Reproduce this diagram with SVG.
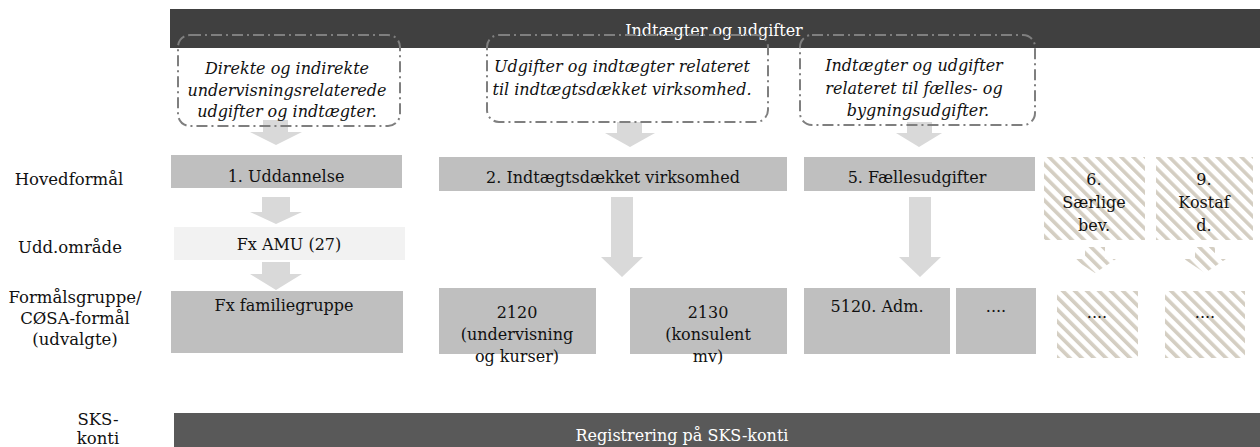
<svg xmlns="http://www.w3.org/2000/svg" width="1260" height="447" viewBox="0 0 1260 447">
<style>
text{font-family:"DejaVu Serif","Liberation Serif",serif;font-size:16px;fill:#111;text-anchor:middle}
.w{fill:#fff}
.it{font-style:italic;font-size:16px}
.lbl{font-size:16.5px}
.g{fill:#bfbfbf}
.arr{fill:#d9d9d9}
.dash{fill:none;stroke:#7f7f7f;stroke-width:2;stroke-dasharray:11 4 2 4}
.h{fill:url(#hatch)}
</style>
<defs>
<pattern id="hatch" patternUnits="userSpaceOnUse" width="8.5" height="8.5" patternTransform="rotate(-45)">
<rect width="8.5" height="8.5" fill="#fff"/>
<rect x="0" y="0" width="3.6" height="8.5" fill="#d4cec2"/>
</pattern>
</defs>
<g id="top-bar">
<rect x="170" y="9" width="1090" height="39" fill="#404040"/>
</g>
<g id="connectors">
<polygon class="arr" points="263,120 288,120 288,132 302,132 276,145 250,132 263,132"/>
<polygon class="arr" points="617,122 642,122 642,133 655,133 630,147 605,133 617,133"/>
<polygon class="arr" points="907,122 932,122 932,133 942,133 919,147 896,133 907,133"/>
<polygon class="arr" points="262,197 290,197 290,212 302,212 276,224 250,212 262,212"/>
<polygon class="arr" points="262,262 290,262 290,274 302,274 276,290 250,274 262,274"/>
<polygon class="arr" points="611,197 633,197 633,257 643,257 622,277 601,257 611,257"/>
<polygon class="arr" points="909,197 931,197 931,257 941,257 920,277 899,257 909,257"/>
<polygon class="h" points="1085,247 1105,247 1105,259 1116,259 1095,273 1074,259 1085,259"/>
<polygon class="h" points="1195,247 1215,247 1215,259 1226,259 1205,273 1184,259 1195,259"/>
</g>
<g id="title"><text class="w" x="714" y="36">Indtægter og udgifter</text></g>
<g id="desc1">
<rect class="dash" x="178" y="35" width="222" height="91" rx="12"/>
<text class="it" x="287" y="74">Direkte og indirekte</text>
<text class="it" x="287" y="96">undervisningsrelaterede</text>
<text class="it" x="287" y="117">udgifter og indtægter.</text>
</g>
<g id="desc2">
<rect class="dash" x="487" y="35" width="281" height="87" rx="12"/>
<text class="it" x="622" y="72">Udgifter og indtægter relateret</text>
<text class="it" x="622" y="95">til indtægtsdækket virksomhed.</text>
</g>
<g id="desc3">
<rect class="dash" x="800" y="35" width="235" height="90" rx="12"/>
<text class="it" x="914" y="71">Indtægter og udgifter</text>
<text class="it" x="914" y="94">relateret til fælles- og</text>
<text class="it" x="918" y="116">bygningsudgifter.</text>
</g>
<g id="labels">
<text class="lbl" x="69" y="185">Hovedformål</text>
<text class="lbl" x="70" y="253">Udd.område</text>
<text class="lbl" x="75" y="303">Formålsgruppe/</text>
<text class="lbl" x="75" y="324">CØSA-formål</text>
<text class="lbl" x="75" y="345">(udvalgte)</text>
<text class="lbl" x="98" y="425">SKS-</text>
<text class="lbl" x="98" y="444">konti</text>
</g>
<g id="n1"><rect class="g" x="171" y="155" width="231" height="33"/><text x="286" y="182">1. Uddannelse</text></g>
<g id="n2"><rect class="g" x="439" y="157" width="348" height="34"/><text x="613" y="183">2. Indtægtsdækket virksomhed</text></g>
<g id="n5"><rect class="g" x="804" y="157" width="231" height="34"/><text x="917" y="183">5. Fællesudgifter</text></g>
<g id="n6"><rect class="h" x="1044" y="157" width="101" height="83"/><text x="1094" y="185">6.</text><text x="1094" y="208">Særlige</text><text x="1094" y="231">bev.</text></g>
<g id="n9"><rect class="h" x="1156" y="157" width="97" height="83"/><text x="1204" y="185">9.</text><text x="1204" y="208">Kostaf</text><text x="1204" y="231">d.</text></g>
<g id="amu"><rect x="174" y="227" width="231" height="33" fill="#f2f2f2"/><text x="289" y="250">Fx AMU (27)</text></g>
<g id="fam"><rect class="g" x="171" y="291" width="232" height="62"/><text x="284" y="311">Fx familiegruppe</text></g>
<g id="n2120"><rect class="g" x="439" y="288" width="157" height="66"/><text x="517" y="318">2120</text><text x="517" y="340">(undervisning</text><text x="517" y="362">og kurser)</text></g>
<g id="n2130"><rect class="g" x="630" y="288" width="157" height="66"/><text x="708" y="318">2130</text><text x="708" y="340">(konsulent</text><text x="708" y="362">mv)</text></g>
<g id="n5120"><rect class="g" x="804" y="288" width="146" height="66"/><text x="877" y="312">5120. Adm.</text></g>
<g id="n5dots"><rect class="g" x="956" y="288" width="80" height="66"/><text x="996" y="312">....</text></g>
<g id="n6dots"><rect class="h" x="1057" y="291" width="81" height="67"/><text x="1097" y="318">....</text></g>
<g id="n9dots"><rect class="h" x="1165" y="291" width="80" height="67"/><text x="1205" y="318">....</text></g>
<g id="bottom-bar"><rect x="174" y="413" width="1086" height="34" fill="#595959"/><text class="w" x="682" y="441">Registrering på SKS-konti</text></g>
</svg>
